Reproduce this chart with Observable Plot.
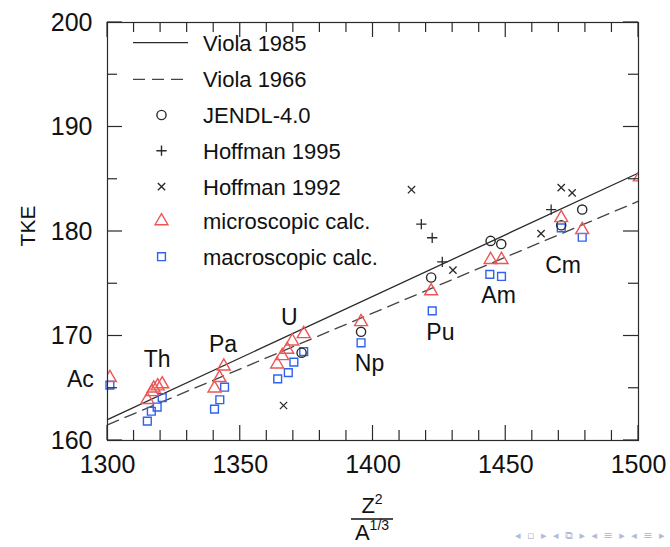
<!DOCTYPE html>
<html><head><meta charset="utf-8">
<script src="https://cdn.jsdelivr.net/npm/d3@7"></script>
<script src="https://cdn.jsdelivr.net/npm/@observablehq/plot@0.6"></script>
<style>
body{margin:0;background:#fff;}
#chart{position:relative;width:670px;height:547px;overflow:hidden;}
</style>
</head><body><div id="chart"></div>
<script>
// ---- data ----
const xTicks = [1300, 1350, 1400, 1450, 1500];
const yTicks = [160, 170, 180, 190, 200];

const viola1985X = [1300, 1500];
const viola1985Y = [162.0, 185.6];
const viola1966X = [1300, 1500];
const viola1966Y = [161.5, 182.9];

const jendlX = [1373.1, 1395.5, 1421.9, 1444.3, 1448.3, 1470.9, 1478.8];
const jendlY = [168.4, 170.4, 175.6, 179.1, 178.8, 180.6, 182.1];

const hoff1995X = [1418.2, 1422.3, 1426.1, 1467.1];
const hoff1995Y = [180.7, 179.4, 177.1, 182.1];

const hoff1992X = [1366.3, 1414.5, 1430.1, 1463.3, 1470.9, 1475.0];
const hoff1992Y = [163.35, 184.0, 176.3, 179.8, 184.2, 183.7];

const microX = [1300.9, 1315.0, 1316.8, 1317.4, 1318.9, 1320.6, 1340.3, 1342.2, 1343.8,
                1363.9, 1365.8, 1367.7, 1369.6, 1373.9, 1395.5, 1421.9, 1444.3, 1448.4,
                1470.9, 1478.8, 1500.5];
const microY = [166.0, 163.9, 164.65, 165.0, 165.2, 165.4, 165.0, 166.0, 167.1,
                167.3, 168.1, 168.7, 169.5, 170.2, 171.35, 174.3, 177.3, 177.3,
                181.3, 180.15, 185.2];

const macroX = [1300.9, 1315.0, 1316.5, 1318.7, 1320.6, 1340.3, 1342.3, 1344.1,
                1364.1, 1368.1, 1370.2, 1373.9, 1395.5, 1422.3, 1444.0, 1448.4,
                1470.9, 1478.8];
const macroY = [165.3, 161.85, 162.8, 163.2, 164.1, 163.0, 163.9, 165.1,
                165.9, 166.5, 167.5, 168.5, 169.35, 172.4, 175.9, 175.7,
                180.35, 179.45];

const elemNames = ["Ac", "Th", "Pa", "U", "Np", "Pu", "Am", "Cm"];
const elemX = [1289.8, 1318.7, 1343.5, 1368.5, 1398.7, 1425.4, 1447.3, 1471.6];
const elemY = [165.85, 167.75, 169.2, 171.8, 167.4, 170.3, 173.9, 176.75];

const legendLabels = ["Viola 1985", "Viola 1966", "JENDL-4.0", "Hoffman 1995",
                      "Hoffman 1992", "microscopic calc.", "macroscopic calc."];

// ---- build tables ----
const zip = (xs, ys) => xs.map((x, i) => ({x, y: ys[i]}));
const v85 = zip(viola1985X, viola1985Y);
const v66 = zip(viola1966X, viola1966Y);
const jendl = zip(jendlX, jendlY);
const h95 = zip(hoff1995X, hoff1995Y);
const h92 = zip(hoff1992X, hoff1992Y);
const micro = zip(microX, microY);
const macro = zip(macroX, macroY);
const elems = elemNames.map((t, i) => ({t, x: elemX[i], y: elemY[i]}));

const RED = "#ee5555", BLUE = "#2f62ee", DARK = "#2a2a2a";
const FONT = "'Liberation Sans', Arial, Helvetica, sans-serif";
const R = {circle: 4.6, plus: 3.4, times: 3.4, triangle: 4.8, square: 4.4};

const plot = Plot.plot({
  width: 670, height: 547,
  marginLeft: 107, marginRight: 32, marginTop: 22, marginBottom: 107,
  x: {domain: [1300, 1500]},
  y: {domain: [160, 200]},
  style: {fontFamily: FONT, fontSize: "25px", color: "#111", background: "#fff"},
  marks: [
    Plot.axisX({ticks: xTicks, tickSize: 0, tickPadding: 15, fontSize: 25, label: null, tickFormat: d => String(d)}),
    Plot.axisY({ticks: yTicks, tickSize: 0, tickPadding: 15, fontSize: 25, label: null, tickFormat: d => String(d)}),
    Plot.line(v85, {x: "x", y: "y", stroke: DARK, strokeWidth: 1.3}),
    Plot.line(v66, {x: "x", y: "y", stroke: "#444", strokeWidth: 1.3, strokeDasharray: "12,7"}),
    Plot.dot(macro, {x: "x", y: "y", symbol: "square", r: R.square, stroke: BLUE, strokeWidth: 1.4, fill: "none"}),
    Plot.dot(jendl, {x: "x", y: "y", symbol: "circle", r: R.circle, stroke: DARK, strokeWidth: 1.4, fill: "none"}),
    Plot.dot(micro, {x: "x", y: "y", symbol: "triangle", r: R.triangle, stroke: RED, strokeWidth: 1.4, fill: "none", clip: true}),
    Plot.dot(h95, {x: "x", y: "y", symbol: "plus", r: R.plus, stroke: DARK, strokeWidth: 1.3}),
    Plot.dot(h92, {x: "x", y: "y", symbol: "times", r: R.times, stroke: DARK, strokeWidth: 1.3}),
    Plot.text(elems, {x: "x", y: "y", text: "t", fontSize: 23, fill: "#111"}),
    Plot.frame({stroke: DARK, strokeWidth: 1.2})
  ]
});

document.getElementById("chart").appendChild(plot);

// ---- inward ticks on all four sides, via the plot's own scales ----
const sx = plot.scale("x"), sy = plot.scale("y");
const X = v => sx.apply(v), Y = v => sy.apply(v);
const L = X(1300), Rt = X(1500), T = Y(200), B = Y(160);
const svg = d3.select(plot);
const tg = svg.append("g").attr("stroke", DARK).attr("stroke-width", 1.2);
d3.range(1300, 1501, 10).forEach(v => {
  const len = v % 50 === 0 ? 15 : 10, x = X(v);
  tg.append("line").attr("x1", x).attr("x2", x).attr("y1", B).attr("y2", B - len);
  tg.append("line").attr("x1", x).attr("x2", x).attr("y1", T).attr("y2", T + len);
});
d3.range(160, 201, 5).forEach(v => {
  const len = v % 10 === 0 ? 15 : 10, y = Y(v);
  tg.append("line").attr("x1", L).attr("x2", L + len).attr("y1", y).attr("y2", y);
  tg.append("line").attr("x1", Rt).attr("x2", Rt - len).attr("y1", y).attr("y2", y);
});

// ---- legend (inside the frame, top-left) ----
const lg = svg.append("g").attr("font-family", FONT).attr("text-anchor", "start");
const rowY = [42.7, 79.3, 115, 150.7, 186.7, 221, 256.7];
const lineX1 = 133, lineX2 = 188, symX = 161.5, textX = 203;
legendLabels.forEach((lab, i) => {
  lg.append("text").attr("x", textX).attr("y", rowY[i]).attr("dy", "0.36em")
    .attr("text-anchor", "start")
    .attr("font-size", 22).attr("fill", "#111").text(lab);
});
lg.append("line").attr("x1", lineX1).attr("x2", lineX2).attr("y1", rowY[0]).attr("y2", rowY[0])
  .attr("stroke", DARK).attr("stroke-width", 1.3);
lg.append("line").attr("x1", lineX1).attr("x2", lineX2).attr("y1", rowY[1]).attr("y2", rowY[1])
  .attr("stroke", "#444").attr("stroke-width", 1.3).attr("stroke-dasharray", "12,7");
const sym = (type, r) => d3.symbol().type(type).size(Math.PI * r * r)();
const legSyms = [
  [d3.symbolCircle, R.circle, DARK, 2],
  [d3.symbolPlus, R.plus, DARK, 3],
  [d3.symbolTimes, R.times, DARK, 4],
  [d3.symbolTriangle, R.triangle, RED, 5],
  [d3.symbolSquare, R.square, BLUE, 6]
];
legSyms.forEach(([t, r, c, i]) => {
  lg.append("path").attr("d", sym(t, r)).attr("transform", `translate(${symX},${rowY[i]})`)
    .attr("fill", "none").attr("stroke", c).attr("stroke-width", 1.4);
});

// ---- axis titles ----
svg.append("text").attr("transform", "translate(27,226) rotate(-90)")
  .attr("text-anchor", "middle").attr("dy", "0.36em").attr("font-family", FONT)
  .attr("font-size", 21).attr("fill", "#111").text("TKE");

const ft = svg.append("g").attr("font-family", FONT).attr("fill", "#111");
const cx = 372;
const zt = ft.append("text").attr("x", cx).attr("y", 513).attr("text-anchor", "middle").attr("font-size", 22);
zt.append("tspan").text("Z");
zt.append("tspan").attr("dy", -9).attr("font-size", 14).text("2");
ft.append("line").attr("x1", cx - 21).attr("x2", cx + 21).attr("y1", 519).attr("y2", 519)
  .attr("stroke", "#111").attr("stroke-width", 1.6);
const at = ft.append("text").attr("x", cx).attr("y", 540).attr("text-anchor", "middle").attr("font-size", 22);
at.append("tspan").text("A");
at.append("tspan").attr("dy", -10).attr("font-size", 14).text("1/3");

// beamer navigation glyphs (decorative)
svg.append("text").attr("x", 515).attr("y", 539).attr("text-anchor", "start")
  .attr("font-family", "'DejaVu Sans', sans-serif")
  .attr("font-size", 11).attr("letter-spacing", 1.5).attr("fill", "#b4bbd6")
  .text("◂ ▫ ▸ ◂ ⧉ ▸ ◂ ≡ ▸ ◂ ≡ ▸");
</script>
</body></html>
